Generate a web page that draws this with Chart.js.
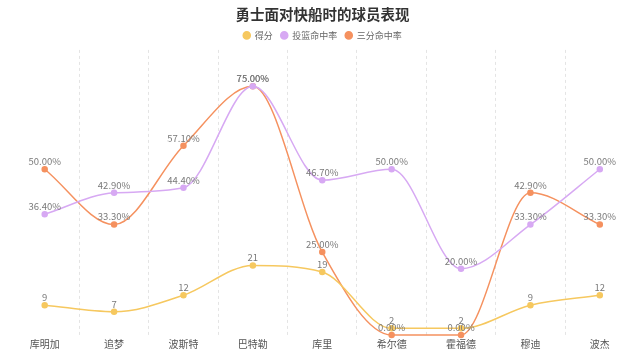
<!DOCTYPE html>
<html>
<head>
<meta charset="utf-8">
<script src="https://cdn.jsdelivr.net/npm/chart.js@4.4.1/dist/chart.umd.min.js"></script>
<style>
  html, body { margin: 0; padding: 0; background: #fff; }
  #wrap { width: 640px; height: 353px; }
</style>
</head>
<body>
<div id="wrap"><canvas id="players-chart"></canvas></div>
<script>
const players = ['库明加', '追梦', '波斯特', '巴特勒', '库里', '希尔德', '霍福德', '穆迪', '波杰'];
const points = [9, 7, 12, 21, 19, 2, 2, 9, 12];
const fgPct = [36.4, 42.9, 44.4, 75.0, 46.7, 50.0, 20.0, 33.3, 50.0];
const threePct = [50.0, 33.3, 57.1, 75.0, 25.0, 0.0, 0.0, 42.9, 33.3];

const FONT = '"Microsoft YaHei", "Noto Sans CJK SC", sans-serif';

// value labels above each point
const valueLabels = {
  id: 'valueLabels',
  afterDatasetsDraw(chart) {
    const ctx = chart.ctx;
    ctx.save();
    ctx.font = '9.5px ' + FONT;
    ctx.fillStyle = '#7a7a7a';
    ctx.textAlign = 'center';
    ctx.textBaseline = 'bottom';
    chart.data.datasets.forEach((ds, i) => {
      const meta = chart.getDatasetMeta(i);
      meta.data.forEach((pt, j) => {
        const v = ds.data[j];
        const txt = ds.isPct ? v.toFixed(2) + '%' : String(v);
        ctx.fillText(txt, pt.x, pt.y - 3);
      });
    });
    ctx.restore();
  }
};

const makeSet = (label, data, color, isPct) => ({
  label,
  data,
  isPct,
  borderColor: color,
  backgroundColor: color,
  pointBackgroundColor: color,
  pointBorderColor: color,
  pointRadius: 2.5,
  borderWidth: 1.5,
  cubicInterpolationMode: 'monotone',
  clip: false,
});

new Chart(document.getElementById('players-chart').getContext('2d'), {
  type: 'line',
  data: {
    labels: players,
    datasets: [
      makeSet('得分', points, '#F6C85F', false),
      makeSet('投篮命中率', fgPct, '#D7A9F3', true),
      makeSet('三分命中率', threePct, '#F5915F', true),
    ],
  },
  plugins: [valueLabels],
  options: {
    responsive: true,
    maintainAspectRatio: false,
    animation: false,
    layout: { padding: { left: 10, right: 5, top: 0, bottom: 0 } },
    plugins: {
      title: {
        display: true,
        text: '勇士面对快船时的球员表现',
        color: '#333',
        font: { family: FONT, size: 14.5, weight: 'bold' },
        padding: { top: 6, bottom: -0.5 },
      },
      legend: {
        display: true,
        labels: {
          usePointStyle: true,
          pointStyle: 'circle',
          boxWidth: 7,
          boxHeight: 5,
          color: '#666',
          padding: 8,
          font: { family: FONT, size: 9 },
        },
      },
      tooltip: { enabled: false },
    },
    scales: {
      x: {
        offset: true,
        grid: {
          offset: true,
          drawTicks: false,
          color: (c) => (c.type === 'tick' && c.index > 0 ? '#e4e4e4' : 'rgba(0,0,0,0)'),
          lineWidth: 1,
        },
        border: { display: false, dash: [3, 3] },
        ticks: {
          color: '#555',
          padding: 3,
          font: { family: FONT, size: 10 },
        },
      },
      y: {
        display: false,
        min: 0,
        max: 86,
      },
    },
  },
});
</script>
</body>
</html>
